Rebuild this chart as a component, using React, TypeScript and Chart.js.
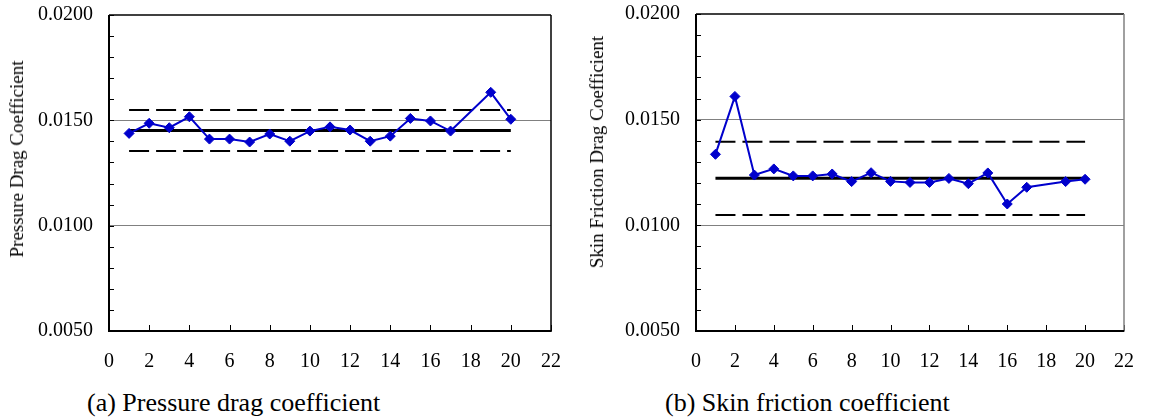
import React, { useEffect, useRef } from "react";
import { Chart, registerables } from "chart.js";

Chart.register(...registerables);

// ---- data ----
const runs = [1, 2, 3, 4, 5, 6, 7, 8, 9, 10, 11, 12, 13, 14, 15, 16, 17, 19, 20];
const pressureDrag = [
  0.01438, 0.01486, 0.01465, 0.01517, 0.01411, 0.01411, 0.01397, 0.01435, 0.01401, 0.01449,
  0.01469, 0.01454, 0.01401, 0.01425, 0.01509, 0.01497, 0.01449, 0.01633, 0.01505,
];
const skinFriction = [
  0.01336, 0.0161, 0.01238, 0.01267, 0.01234, 0.01234, 0.01243, 0.01207, 0.01249, 0.01208,
  0.01203, 0.01203, 0.01222, 0.01197, 0.01248, 0.01101, 0.0118, 0.01207, 0.01218,
];
const pressureBands = [0.01452, 0.01549, 0.01355]; // mean, upper, lower
const skinBands = [0.01223, 0.01396, 0.01049]; // mean, upper, lower
const bandRange = [1, 20];
const xRange = [0, 22];
const xStep = 2;
const yRange = [0.005, 0.02];
const yMinorStep = 0.001;
const yLabelEvery = 5;

const captions = ["(a) Pressure drag coefficient", "(b) Skin friction coefficient"];
const yTitles = ["Pressure Drag Coefficient", "Skin Friction Drag Coefficient"];

const FONT = '"Liberation Serif", "Times New Roman", serif';
const BLUE = "#0000CC";

const framePlugin = {
  id: "frame",
  afterDraw(chart: any, _args: any, opts: any) {
    const { ctx, chartArea: a, scales } = chart;
    ctx.save();
    ctx.strokeStyle = "#000";
    ctx.lineWidth = 1;
    ctx.beginPath();
    scales.y.ticks.forEach((t: any) => {
      const p = Math.round(scales.y.getPixelForValue(t.value)) + 0.5;
      ctx.moveTo(a.left, p);
      ctx.lineTo(a.left + 5, p);
    });
    scales.x.ticks.forEach((t: any) => {
      const p = Math.round(scales.x.getPixelForValue(t.value)) + 0.5;
      ctx.moveTo(p, a.bottom);
      ctx.lineTo(p, a.bottom - 6);
    });
    ctx.stroke();
    ctx.lineWidth = 1.5;
    ctx.beginPath();
    ctx.moveTo(a.left, a.top);
    ctx.lineTo(a.right, a.top);
    ctx.stroke();
    ctx.strokeStyle = opts.rightColor || "#000";
    ctx.beginPath();
    ctx.moveTo(a.right, a.top);
    ctx.lineTo(a.right, a.bottom + 1);
    ctx.stroke();
    ctx.strokeStyle = "#000";
    ctx.lineWidth = 2;
    ctx.beginPath();
    ctx.moveTo(a.left, a.top);
    ctx.lineTo(a.left, a.bottom);
    ctx.lineTo(a.right, a.bottom);
    ctx.stroke();
    ctx.restore();
  },
};

function band(v: number) {
  return [
    { x: bandRange[0], y: v },
    { x: bandRange[1], y: v },
  ];
}

function makeConfig(values: number[], bands: number[], yWidth: number, padTop: number, padRight: number, rightColor: string) {
  return {
    type: "line" as const,
    data: {
      datasets: [
        {
          data: runs.map((x, i) => ({ x, y: values[i] })),
          borderColor: BLUE,
          backgroundColor: BLUE,
          borderWidth: 2,
          pointStyle: "rectRot",
          pointRadius: 5,
          pointBorderWidth: 1,
          pointBackgroundColor: BLUE,
          pointBorderColor: BLUE,
          tension: 0,
        },
        { data: band(bands[0]), borderColor: "#000", borderWidth: 3, pointRadius: 0 },
        { data: band(bands[1]), borderColor: "#000", borderWidth: 2, borderDash: [20, 7], pointRadius: 0 },
        { data: band(bands[2]), borderColor: "#000", borderWidth: 2, borderDash: [20, 7], pointRadius: 0 },
      ],
    },
    options: {
      animation: false,
      responsive: false,
      devicePixelRatio: 1,
      layout: { autoPadding: false, padding: { left: 0, top: padTop, right: padRight, bottom: 0 } },
      plugins: {
        legend: { display: false },
        title: { display: false },
        tooltip: { enabled: false },
        frame: { rightColor },
      },
      scales: {
        x: {
          type: "linear",
          min: xRange[0],
          max: xRange[1],
          grid: { display: false, drawTicks: false },
          border: { display: false },
          ticks: {
            stepSize: xStep,
            autoSkip: false,
            maxRotation: 0,
            padding: 19,
            color: "#000",
            font: { family: FONT, size: 20 },
          },
          afterFit: (s: any) => {
            s.height = 49;
          },
        },
        y: {
          type: "linear",
          min: yRange[0],
          max: yRange[1],
          grid: {
            drawTicks: false,
            lineWidth: 1,
            color: (c: any) => {
              const k = Math.round(c.tick.value / yMinorStep);
              const lo = Math.round(yRange[0] / yMinorStep);
              const hi = Math.round(yRange[1] / yMinorStep);
              return k % yLabelEvery === 0 && k !== lo && k !== hi ? "#808080" : "rgba(0,0,0,0)";
            },
          },
          border: { display: false },
          ticks: {
            stepSize: yMinorStep,
            autoSkip: false,
            padding: 16,
            color: "#000",
            font: { family: FONT, size: 20 },
            callback: (v: any) => {
              const k = Math.round(Number(v) / yMinorStep);
              return k % yLabelEvery === 0 ? Number(v).toFixed(4) : "";
            },
          },
          afterFit: (s: any) => {
            s.width = yWidth;
            s.paddingTop = 0;
            s.paddingBottom = 0;
          },
        },
      },
    },
    plugins: [framePlugin],
  };
}

function Panel(props: {
  left: number;
  width: number;
  values: number[];
  bands: number[];
  yWidth: number;
  padTop: number;
  padRight: number;
  rightColor: string;
}) {
  const ref = useRef<HTMLCanvasElement | null>(null);
  useEffect(() => {
    if (!ref.current) return;
    const chart = new Chart(
      ref.current,
      makeConfig(props.values, props.bands, props.yWidth, props.padTop, props.padRight, props.rightColor) as any
    );
    return () => chart.destroy();
  }, []);
  return (
    <canvas
      ref={ref}
      width={props.width}
      height={380}
      style={{ position: "absolute", left: props.left, top: 0, width: props.width, height: 380, display: "block" }}
    />
  );
}

const textBase: React.CSSProperties = {
  position: "absolute",
  fontFamily: FONT,
  color: "#000",
  whiteSpace: "nowrap",
};

function VTitle({ text, cx, cy }: { text: string; cx: number; cy: number }) {
  return (
    <div
      style={{
        ...textBase,
        left: cx,
        top: cy,
        fontSize: 19,
        lineHeight: "22px",
        transform: "translate(-50%, -50%) rotate(-90deg)",
      }}
    >
      {text}
    </div>
  );
}

export default function App() {
  return (
    <div
      style={{
        position: "absolute",
        left: 0,
        top: 0,
        width: 1153,
        height: 419,
        background: "#fff",
        overflow: "hidden",
      }}
    >
      <Panel left={0} width={580} values={pressureDrag} bands={pressureBands} yWidth={109} padTop={15} padRight={25} rightColor="#000" />
      <Panel left={580} width={573} values={skinFriction} bands={skinBands} yWidth={116} padTop={14} padRight={12} rightColor="#808080" />
      <VTitle text={yTitles[0]} cx={17} cy={159} />
      <VTitle text={yTitles[1]} cx={597} cy={152} />
      <div style={{ ...textBase, left: 87, top: 388, fontSize: 26, lineHeight: "30px" }}>{captions[0]}</div>
      <div style={{ ...textBase, left: 665, top: 388, fontSize: 26, lineHeight: "30px" }}>{captions[1]}</div>
    </div>
  );
}
